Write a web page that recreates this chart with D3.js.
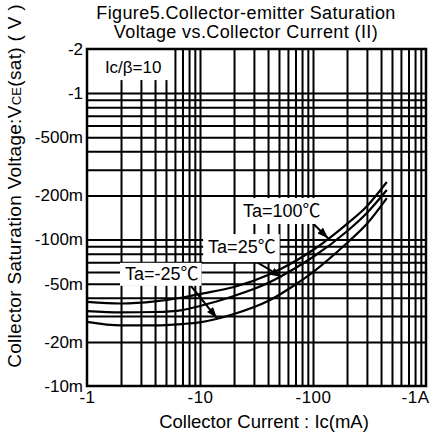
<!DOCTYPE html>
<html>
<head>
<meta charset="utf-8">
<script src="https://cdn.jsdelivr.net/npm/d3@7"></script>
<style>
  body { margin: 0; background: #fff; }
  text { font-family: "Liberation Sans", Arial, "Noto Sans CJK JP", sans-serif; fill: #000; }
</style>
</head>
<body>
<div id="container"></div>
<script>
/* DATA */
const currentMA = [1, 2, 4, 7, 10, 20, 40, 70, 100, 200, 300, 450];
const vce100 = [0.0375, 0.0366, 0.0378, 0.0402, 0.0425, 0.0474, 0.0573, 0.0714, 0.0848, 0.128, 0.169, 0.247];
const vce25 = [0.0325, 0.0318, 0.032, 0.033, 0.0352, 0.0412, 0.0505, 0.0639, 0.076, 0.114, 0.152, 0.218];
const vceMinus25 = [0.0274, 0.0259, 0.0259, 0.0265, 0.0272, 0.031, 0.038, 0.0493, 0.060, 0.0947, 0.128, 0.192];
const seriesNames = ["Ta=100℃", "Ta=25℃", "Ta=-25℃"];

const xTickValues = [1, 10, 100, 1000];
const xTickLabels = ["-1", "-10", "-100", "-1A"];
const yTickValues = [0.01, 0.02, 0.05, 0.1, 0.2, 0.5, 1, 2];
const yTickLabels = ["-10m", "-20m", "-50m", "-100m", "-200m", "-500m", "-1", "-2"];

/* CONSTANTS */
const width = 436, height = 436,
  margin = {top: 49, left: 87, bottom: 50, right: 10};

// SCALES
const xScale = d3.scaleLog()
  .domain([1, 1000])
  .range([margin.left, width - margin.right]);

const yScale = d3.scaleLog()
  .domain([0.01, 2])
  .range([height - margin.bottom, margin.top]);

const plotW = xScale.range()[1] - xScale.range()[0];
const plotH = yScale.range()[0] - yScale.range()[1];

const svg = d3.select("#container")
  .append("svg")
  .attr("width", width)
  .attr("height", height);

// GRID (every 1..9 step of each decade, borders excluded)
const gridX = xScale.ticks().filter(d => d > 1 && d < 1000);
const gridY = yScale.ticks().filter(d => d > 0.0101 && d < 1.5);

svg.append("g")
  .attr("transform", `translate(0,${yScale.range()[0]})`)
  .call(d3.axisBottom(xScale).tickValues(gridX).tickSize(-plotH).tickFormat(""))
  .call(g => g.select(".domain").remove())
  .call(g => g.selectAll("line").attr("stroke", "#000").attr("stroke-width", 2));

svg.append("g")
  .attr("transform", `translate(${xScale.range()[0]},0)`)
  .call(d3.axisLeft(yScale).tickValues(gridY).tickSize(-plotW).tickFormat(""))
  .call(g => g.select(".domain").remove())
  .call(g => g.selectAll("line").attr("stroke", "#000").attr("stroke-width", 2));

// CURVES
const series = [
  {name: seriesNames[0], values: vce100},
  {name: seriesNames[1], values: vce25},
  {name: seriesNames[2], values: vceMinus25}
];

const lineGen = d3.line()
  .x((d, i) => xScale(currentMA[i]))
  .y(d => yScale(d))
  .curve(d3.curveMonotoneX);

svg.selectAll(".curve")
  .data(series)
  .join("path")
  .attr("class", "curve")
  .attr("d", d => lineGen(d.values))
  .attr("fill", "none")
  .attr("stroke", "#000")
  .attr("stroke-width", 2.2);

// ARROWS + LABELS (placed in data units)
svg.append("defs").append("marker")
  .attr("id", "head")
  .attr("markerUnits", "userSpaceOnUse")
  .attr("markerWidth", 11).attr("markerHeight", 8)
  .attr("refX", 11).attr("refY", 4)
  .attr("orient", "auto")
  .append("path")
  .attr("d", "M0,0L11,4L0,8z")
  .attr("fill", "#000");

const notes = [
  {text: seriesNames[0], at: [24, 0.1425], from: [88, 0.142], to: [136, 0.102], pad: [3, 3, 2, 3], size: 18},
  {text: seriesNames[1], at: [11.8, 0.0808], from: [31, 0.071], to: [53, 0.0555], pad: [5, 3, 4, 5], size: 18},
  {text: seriesNames[2], at: [2.17, 0.0531], from: [7.8, 0.0513], to: [14.1, 0.0291], pad: [5, 1, 3, 2], size: 18},
  {text: "Ic/β=10", at: [1.44, 1.37], pad: [17, 9, 7, 3], size: 17}
];

notes.filter(n => n.from).forEach(n => {
  svg.append("line")
    .attr("x1", xScale(n.from[0])).attr("y1", yScale(n.from[1]))
    .attr("x2", xScale(n.to[0])).attr("y2", yScale(n.to[1]))
    .attr("stroke", "#000")
    .attr("stroke-width", 2)
    .attr("marker-end", "url(#head)");
});

notes.forEach(n => {
  const g = svg.append("g");
  const rect = g.append("rect").attr("fill", "#fff");
  const t = g.append("text")
    .attr("x", xScale(n.at[0]))
    .attr("y", yScale(n.at[1]))
    .attr("font-size", n.size)
    .text(n.text);
  const b = t.node().getBBox();
  rect.attr("x", b.x - n.pad[0]).attr("y", b.y - n.pad[1])
    .attr("width", b.width + n.pad[0] + n.pad[2])
    .attr("height", b.height + n.pad[1] + n.pad[3]);
});

// FRAME
svg.append("rect")
  .attr("x", xScale.range()[0]).attr("y", yScale.range()[1])
  .attr("width", plotW).attr("height", plotH)
  .attr("fill", "none")
  .attr("stroke", "#000")
  .attr("stroke-width", 2.5);

// AXES LABELS
const xAxis = svg.append("g")
  .attr("transform", `translate(0,${yScale.range()[0]})`)
  .call(d3.axisBottom(xScale).tickValues(xTickValues).tickFormat((d, i) => xTickLabels[i]).tickSize(0).tickPadding(5));
xAxis.select(".domain").remove();
xAxis.selectAll("text")
  .attr("font-size", 17)
  .attr("font-family", "Liberation Sans, Arial, sans-serif")
  .attr("letter-spacing", 0.5)
  .attr("text-anchor", d => d === 1000 ? "end" : "middle")
  .attr("dx", d => d === 1000 ? 3 : 0);

const yAxis = svg.append("g")
  .attr("transform", `translate(${xScale.range()[0]},0)`)
  .call(d3.axisLeft(yScale).tickValues(yTickValues).tickFormat((d, i) => yTickLabels[i]).tickSize(0).tickPadding(4));
yAxis.select(".domain").remove();
yAxis.selectAll("text")
  .attr("font-size", 17)
  .attr("font-family", "Liberation Sans, Arial, sans-serif");

// TITLE
const title = svg.append("text")
  .attr("text-anchor", "middle")
  .attr("font-size", 18)
  .attr("letter-spacing", 0.4);
title.append("tspan").attr("x", 246).attr("y", 18.5).text("Figure5.Collector-emitter Saturation");
title.append("tspan").attr("x", 246).attr("y", 37.5).text("Voltage vs.Collector Current (II)");

svg.append("text")
  .attr("x", 264).attr("y", 428)
  .attr("text-anchor", "middle")
  .attr("font-size", 18.5)
  .text("Collector Current : Ic(mA)");

const yLabel = svg.append("text")
  .attr("transform", "translate(21,186) rotate(-90)")
  .attr("text-anchor", "middle")
  .attr("font-size", 19)
  .attr("letter-spacing", 0.3);
yLabel.append("tspan").text("Collector Saturation Voltage:V");
yLabel.append("tspan").attr("font-size", 13).text("CE");
yLabel.append("tspan").text("(sat) ( V )");
</script>
</body>
</html>
